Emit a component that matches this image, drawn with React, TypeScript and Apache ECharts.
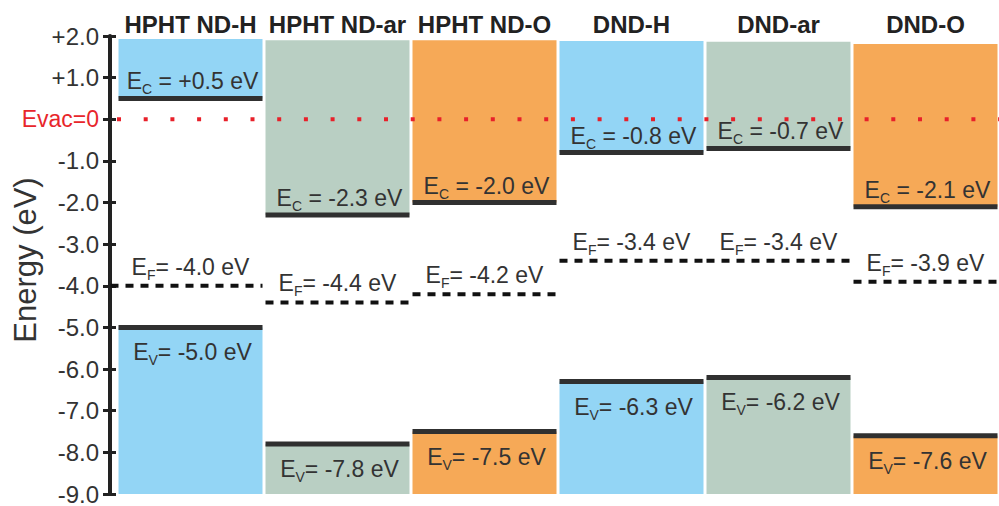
import React, { useEffect, useRef } from "react";
import * as echarts from "echarts";

// ---- data ----
const categories = ["HPHT ND-H", "HPHT ND-ar", "HPHT ND-O", "DND-H", "DND-ar", "DND-O"];
const conductionEdge = [0.5, -2.3, -2.0, -0.8, -0.7, -2.1];
const fermiLevel = [-4.0, -4.4, -4.2, -3.4, -3.4, -3.9];
const valenceEdge = [-5.0, -7.8, -7.5, -6.3, -6.2, -7.6];
const bandTop = [1.93, 1.9, 1.9, 1.88, 1.86, 1.81];
const bandBottom = -9.0;
const vacuumLevel = 0;
const yMin = -9;
const yMax = 2;
const surfaceKind = ["H", "ar", "O", "H", "ar", "O"];

const kindColor: Record<string, string> = {
  H: "#93d5f5",
  ar: "#b9cfc3",
  O: "#f6a957",
};

const FONT = "'Liberation Sans', Arial, sans-serif";
const TEXT = "#333333";

const fmt = (v: number) => (v > 0 ? "+" + v.toFixed(1) : v.toFixed(1));

export default function App() {
  const ref = useRef<HTMLDivElement>(null);

  useEffect(() => {
    if (!ref.current) return;
    const chart = echarts.init(ref.current, undefined, { renderer: "svg" });

    const rich = {
      s: {
        fontSize: 14,
        lineHeight: 14,
        fontFamily: FONT,
        fill: TEXT,
        color: TEXT,
        verticalAlign: "bottom",
      },
    };

    const mkLabel = (x: number, y: number, text: string) => ({
      type: "text",
      z2: 20,
      style: {
        x,
        y,
        text,
        align: "center",
        verticalAlign: "middle",
        fontSize: 23,
        lineHeight: 30,
        fontFamily: FONT,
        fill: TEXT,
        rich,
      },
    });

    const bandData = categories.map((_, i) => [
      i,
      conductionEdge[i],
      fermiLevel[i],
      valenceEdge[i],
      bandTop[i],
    ]);

    const option: any = {
      animation: false,
      grid: { left: 117, right: 0, top: 36, bottom: 4, containLabel: false },
      xAxis: {
        type: "category",
        position: "top",
        data: categories,
        boundaryGap: true,
        axisLine: { show: false },
        axisTick: { show: false },
        splitLine: { show: false },
        axisLabel: {
          margin: 0,
          fontSize: 24,
          fontWeight: "bold",
          fontFamily: FONT,
          color: "#222222",
          interval: 0,
        },
      },
      yAxis: [
        {
          type: "value",
          min: yMin,
          max: yMax,
          interval: 1,
          offset: 7,
          splitLine: { show: false },
          axisLine: { show: true, lineStyle: { color: "#222222", width: 4 } },
          axisTick: { show: true, length: 7, lineStyle: { color: "#222222", width: 3 } },
          axisLabel: {
            margin: 11,
            fontSize: 24,
            fontFamily: FONT,
            color: TEXT,
            formatter: (v: number) =>
              v === vacuumLevel ? "{red|Evac=0}" : fmt(v),
            rich: {
              red: { color: "#e8262b", fontSize: 23, fontFamily: FONT },
            },
          },
        },
        {
          type: "value",
          min: yMin,
          max: yMax,
          interval: 1,
          offset: 7,
          position: "left",
          splitLine: { show: false },
          axisLine: { show: false },
          axisLabel: { show: false },
          axisTick: { show: true, inside: true, length: 6, lineStyle: { color: "#222222", width: 3 } },
        },
      ],
      graphic: [
        {
          type: "text",
          x: 25,
          y: 260,
          rotation: Math.PI / 2,
          style: {
            text: "Energy (eV)",
            align: "center",
            verticalAlign: "middle",
            fontSize: 31,
            fontFamily: FONT,
            fill: TEXT,
          },
        },
      ],
      series: [
        {
          type: "custom",
          z: 2,
          data: bandData,
          renderItem: (params: any, api: any) => {
            const i = params.dataIndex;
            const cx = api.coord([i, 0])[0];
            const bw = api.size([1, 0])[0];
            const x0 = cx - bw / 2 + 1.5;
            const w = bw - 3;
            const yTop = api.coord([i, api.value(4)])[1];
            const yEc = api.coord([i, api.value(1)])[1];
            const yEf = api.coord([i, api.value(2)])[1];
            const yEv = api.coord([i, api.value(3)])[1];
            const yBot = api.coord([i, bandBottom])[1];
            const color = kindColor[surfaceKind[i]];
            const fx0 = i === 0 ? x0 - 8 : x0;
            return {
              type: "group",
              children: [
                {
                  type: "rect",
                  shape: { x: x0, y: yTop, width: w, height: yEc - yTop },
                  style: { fill: color },
                },
                {
                  type: "rect",
                  shape: { x: x0, y: yEv, width: w, height: yBot - yEv },
                  style: { fill: color },
                },
                {
                  type: "line",
                  z2: 10,
                  shape: { x1: x0, y1: yEc, x2: x0 + w, y2: yEc },
                  style: { stroke: "#303030", lineWidth: 5 },
                },
                {
                  type: "line",
                  z2: 10,
                  shape: { x1: x0, y1: yEv, x2: x0 + w, y2: yEv },
                  style: { stroke: "#303030", lineWidth: 5 },
                },
                {
                  type: "line",
                  z2: 10,
                  shape: { x1: fx0, y1: yEf, x2: x0 + w, y2: yEf },
                  style: { stroke: "#111111", lineWidth: 4, lineDash: [8, 7] },
                },
                mkLabel(cx + 2, yEc - 17, `E{s|C} = ${fmt(api.value(1))} eV`),
                mkLabel(cx, yEf - 19, `E{s|F}= ${fmt(api.value(2))} eV`),
                mkLabel(cx + 2, yEv + 25, `E{s|V}= ${fmt(api.value(3))} eV`),
              ],
            };
          },
        },
        {
          type: "custom",
          z: 5,
          data: [[0, vacuumLevel]],
          renderItem: (params: any, api: any) => {
            const cs = params.coordSys;
            const y = api.coord([0, api.value(1)])[1];
            return {
              type: "line",
              shape: { x1: cs.x, y1: y, x2: cs.x + cs.width, y2: y },
              style: { stroke: "#e8202a", lineWidth: 4, lineDash: [4, 22.7] },
            };
          },
        },
      ],
    };

    chart.setOption(option);
    return () => chart.dispose();
  }, []);

  return (
    <div
      ref={ref}
      style={{ position: "fixed", left: 0, top: 0, width: 999, height: 506, background: "#ffffff" }}
    />
  );
}
